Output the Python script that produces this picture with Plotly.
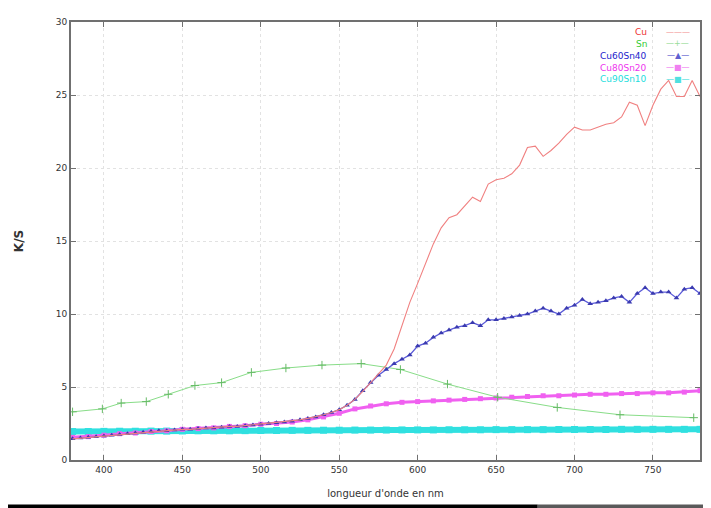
import plotly.graph_objects as go

# wavelength grids (nm)
wl5 = list(range(380, 785, 5))
wl10 = list(range(380, 790, 10))

cu = [1.45, 1.5, 1.55, 1.6, 1.65, 1.7, 1.75, 1.8, 1.85, 1.9,
      1.95, 2.0, 2.0, 2.05, 2.1, 2.1, 2.15, 2.2, 2.2, 2.25,
      2.3, 2.3, 2.35, 2.4, 2.45, 2.5, 2.55, 2.6, 2.65, 2.75,
      2.85, 2.95, 3.1, 3.25, 3.45, 3.75, 4.15, 4.7, 5.3, 5.9,
      6.5, 7.6, 9.2, 10.8, 12.1, 13.5, 14.8, 15.9, 16.6, 16.8,
      17.4, 18.0, 17.7, 18.9, 19.2, 19.3, 19.6, 20.2, 21.4, 21.5,
      20.8, 21.2, 21.7, 22.3, 22.8, 22.6, 22.6, 22.8, 23.0, 23.1,
      23.5, 24.5, 24.3, 22.9, 24.3, 25.4, 26.0, 24.9, 24.9, 26.0, 24.9]

cu60sn40 = [1.45, 1.5, 1.55, 1.6, 1.65, 1.7, 1.75, 1.8, 1.85, 1.9,
            1.95, 2.0, 2.0, 2.05, 2.1, 2.1, 2.15, 2.2, 2.2, 2.25,
            2.3, 2.3, 2.35, 2.4, 2.45, 2.5, 2.55, 2.6, 2.65, 2.75,
            2.85, 2.95, 3.1, 3.25, 3.45, 3.75, 4.15, 4.75, 5.3, 5.8,
            6.2, 6.6, 6.9, 7.2, 7.8, 8.0, 8.4, 8.7, 8.9, 9.1,
            9.2, 9.4, 9.2, 9.6, 9.6, 9.7, 9.8, 9.9, 10.0, 10.2,
            10.4, 10.2, 10.0, 10.4, 10.6, 11.0, 10.7, 10.8, 10.9, 11.1,
            11.2, 10.8, 11.4, 11.8, 11.4, 11.5, 11.5, 11.1, 11.7, 11.8, 11.4]

cu80sn20 = [1.55, 1.6, 1.7, 1.8, 1.85, 1.95, 2.0, 2.1, 2.15, 2.2,
            2.3, 2.35, 2.45, 2.5, 2.6, 2.75, 2.95, 3.2, 3.5, 3.7,
            3.85, 3.95, 4.0, 4.05, 4.1, 4.15, 4.2, 4.25, 4.3, 4.35,
            4.4, 4.4, 4.45, 4.5, 4.5, 4.55, 4.55, 4.6, 4.6, 4.65, 4.75]

cu90sn10 = [1.95, 1.95, 1.96, 1.97, 1.97, 1.98, 1.98, 1.99, 2.0, 2.0,
            2.0, 2.01, 2.02, 2.02, 2.03, 2.03, 2.04, 2.04, 2.05, 2.05,
            2.05, 2.06, 2.06, 2.06, 2.07, 2.07, 2.07, 2.08, 2.08, 2.08,
            2.08, 2.09, 2.09, 2.09, 2.09, 2.1, 2.1, 2.1, 2.1, 2.1, 2.1]

sn_wl = [380, 399, 411, 427, 441, 458, 475, 494, 516, 539, 564, 589, 619, 651, 689, 729, 776]
sn = [3.3, 3.5, 3.9, 4.0, 4.5, 5.1, 5.3, 6.0, 6.3, 6.5, 6.6, 6.2, 5.2, 4.3, 3.6, 3.1, 2.9]

x_ticks = [400, 450, 500, 550, 600, 650, 700, 750]
y_ticks = [0, 5, 10, 15, 20, 25, 30]

legend_names = ["Cu", "Sn", "Cu60Sn40", "Cu80Sn20", "Cu90Sn10"]
legend_text_colors = ["#ee3333", "#33cc33", "#2222cc", "#ee33ee", "#22dddd"]
legend_samples = ["———", "—+—", "—▲—", "—■—", "—■—"]
legend_sample_colors = ["#f4a0a0", "#99dd99", "#6060d0", "#f080f0", "#50e0e0"]

fig = go.Figure()
fig.add_trace(go.Scatter(x=wl10, y=cu90sn10, name="Cu90Sn10",
                         mode="lines+markers", line=dict(color="#30e0e0", width=6),
                         marker=dict(color="#30e0e0", size=7, symbol="square")))
fig.add_trace(go.Scatter(x=wl10, y=cu80sn20, name="Cu80Sn20",
                         mode="lines+markers", line=dict(color="#f060f0", width=3),
                         marker=dict(color="#f060f0", size=5, symbol="square")))
fig.add_trace(go.Scatter(x=sn_wl, y=sn, name="Sn",
                         mode="lines+markers", line=dict(color="#88dd88", width=1),
                         marker=dict(color="#66bb66", size=6, symbol="cross-thin",
                                     line=dict(color="#66bb66", width=1))))
fig.add_trace(go.Scatter(x=wl5, y=cu60sn40, name="Cu60Sn40",
                         mode="lines+markers", line=dict(color="#5a5ad8", width=1.3),
                         marker=dict(color="#3a3ab0", size=5, symbol="triangle-up")))
fig.add_trace(go.Scatter(x=wl5, y=cu, name="Cu",
                         mode="lines", line=dict(color="#f08080", width=1.1)))

annotations = []
for i, (nm, tc, smp, sc) in enumerate(zip(legend_names, legend_text_colors,
                                          legend_samples, legend_sample_colors)):
    yp = 0.977 - i * 0.027
    annotations.append(dict(xref="paper", yref="paper", x=0.919, y=yp,
                            xanchor="right", yanchor="middle", showarrow=False,
                            text=nm, font=dict(family="DejaVu Sans", size=9, color=tc)))
    annotations.append(dict(xref="paper", yref="paper", x=0.965, y=yp,
                            xanchor="center", yanchor="middle", showarrow=False,
                            text=smp, font=dict(family="DejaVu Sans", size=8, color=sc)))

axis_common = dict(showline=True, linecolor="#707070", linewidth=2, mirror="ticks",
                   ticks="inside", ticklen=5, tickcolor="#707070",
                   showgrid=True, gridcolor="#e2e2e2", griddash="dot", gridwidth=1,
                   zeroline=False,
                   tickfont=dict(family="DejaVu Sans", size=9, color="#333333"))

# the page body adds an 8px margin, so the figure is 8px smaller and margins compensate
fig.update_layout(
    width=703, height=500,
    margin=dict(l=63, r=9, t=9, b=48),
    paper_bgcolor="white", plot_bgcolor="white",
    showlegend=False,
    annotations=annotations,
    xaxis=dict(range=[379, 780], tickvals=x_ticks,
               title=dict(text="longueur d'onde en nm", standoff=16,
                          font=dict(family="DejaVu Sans", size=10, color="#333333")),
               **axis_common),
    yaxis=dict(range=[0, 30], tickvals=y_ticks,
               title=dict(text="<b>K/S</b>", standoff=30,
                          font=dict(family="DejaVu Sans", size=12, color="#333333")),
               **axis_common),
    shapes=[
        dict(type="rect", xref="paper", yref="paper", x0=-0.11, x1=0.742,
             y0=-0.12, y1=-0.1016, fillcolor="black", line=dict(width=0), layer="above"),
        dict(type="rect", xref="paper", yref="paper", x0=0.742, x1=1.02,
             y0=-0.12, y1=-0.1016, fillcolor="#5a5a5a", line=dict(width=0), layer="above"),
    ],
)

fig.write_html("out.html")
